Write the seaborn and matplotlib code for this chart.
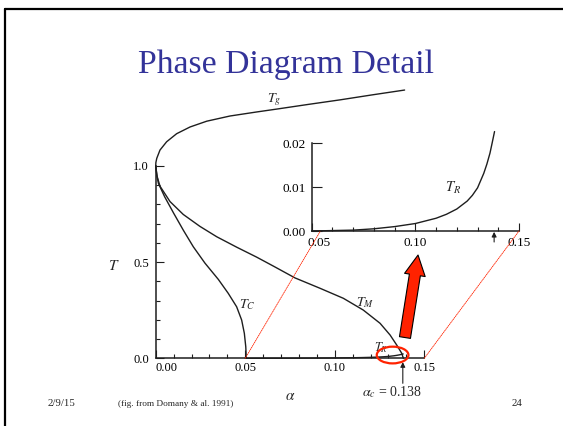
import matplotlib
matplotlib.use("Agg")
import matplotlib.pyplot as plt
import matplotlib.transforms as mtransforms
from matplotlib.patches import Ellipse, FancyArrowPatch, ConnectionPatch
from matplotlib.lines import Line2D
from matplotlib.ticker import MultipleLocator, FixedLocator, NullLocator
import pandas as pd
import seaborn as sns

# ---------------- data ----------------
tg_alpha = [0.0, 0.0001, 0.0006, 0.0024, 0.0061, 0.0117, 0.0192, 0.0285, 0.0415, 0.0564, 0.0676, 0.085, 0.103, 0.121, 0.139]
tg_T = [1.0, 1.018, 1.04, 1.083, 1.126, 1.168, 1.203, 1.233, 1.260, 1.281, 1.296, 1.320, 1.344, 1.370, 1.395]

tc_alpha = [0.0, 0.0006, 0.0015, 0.005, 0.010, 0.0155, 0.021, 0.0275, 0.035, 0.0405, 0.0452, 0.048, 0.0495, 0.0503, 0.0506]
tc_T = [1.0, 0.955, 0.91, 0.84, 0.755, 0.665, 0.58, 0.495, 0.41, 0.338, 0.268, 0.199, 0.13, 0.06, 0.0]

tm_alpha = [0.0, 0.0008, 0.0024, 0.008, 0.0154, 0.0247, 0.0341, 0.0452, 0.0564, 0.066, 0.0778, 0.0918, 0.1048, 0.1159, 0.1253, 0.1309, 0.1346, 0.1374, 0.1383]
tm_T = [1.0, 0.945, 0.895, 0.815, 0.748, 0.686, 0.632, 0.578, 0.526, 0.478, 0.418, 0.364, 0.312, 0.251, 0.182, 0.121, 0.069, 0.026, 0.0]

tr_alpha = [0.05, 0.06, 0.07, 0.08, 0.09, 0.10, 0.11, 0.115, 0.12, 0.125, 0.1275, 0.13, 0.133, 0.1345, 0.136, 0.137, 0.1382]
tr_T = [0.0, 0.0001, 0.0002, 0.0005, 0.0010, 0.0017, 0.0029, 0.0038, 0.0050, 0.0068, 0.0081, 0.0098, 0.0131, 0.0152, 0.0177, 0.0199, 0.0226]

alpha_c = 0.138

main_xticks = [0.00, 0.05, 0.10, 0.15]
main_xticklabels = ["0.00", "0.05", "0.10", "0.15"]
main_yticks = [0.0, 0.5, 1.0]
main_yticklabels = ["0.0", "0.5", "1.0"]
inset_xticks = [0.05, 0.10, 0.15]
inset_xticklabels = ["0.05", "0.10", "0.15"]
inset_yticks = [0.00, 0.01, 0.02]
inset_yticklabels = ["0.00", "0.01", "0.02"]

title = "Phase Diagram Detail"
footer_date = "2/9/15"
footer_cite = "(fig. from Domany & al. 1991)"
footer_page = "24"

# ---------------- style ----------------
sns.set_style("ticks")
plt.rcParams["font.family"] = ["Liberation Serif", "DejaVu Serif"]
plt.rcParams["mathtext.fontset"] = "stix"
plt.rcParams["lines.solid_joinstyle"] = "round"

W, H = 563.0, 426.0
LINE = "#1e1e1e"
RED = "#ff2200"


def fx(px):
    return px / W


def fy(py):
    return 1.0 - py / H


fig = plt.figure(figsize=(5.63, 4.26), dpi=100, facecolor="white")

# slide border (left and top)
fig.add_artist(Line2D([fx(5.4), fx(5.4)], [0, fy(9)], color="black", lw=1.6))
fig.add_artist(Line2D([fx(5.4), 1.0], [fy(9), fy(9)], color="black", lw=1.6))

# title
fig.text(fx(286), fy(73.5), title, ha="center", va="baseline",
         fontsize=24.3, color="#333399")

# ---------------- main axes ----------------
ax = fig.add_axes([fx(155.7), fy(358.3), (424.3 - 155.7) / W, 1.45 * 192.3 / H])
ax.set_facecolor("none")
curves = [(tg_alpha, tg_T), (tc_alpha, tc_T), (tm_alpha, tm_T), (tr_alpha, tr_T)]
for xa, ya in curves:
    df = pd.DataFrame({"alpha": xa, "T": ya})
    sns.lineplot(data=df, x="alpha", y="T", ax=ax, color=LINE, lw=1.0,
                 sort=False, estimator=None, clip_on=False)
ax.set_xlim(0, 0.15)
ax.set_ylim(0, 1.45)
ax.set_xlabel("")
ax.set_ylabel("")
for s in ["top", "right"]:
    ax.spines[s].set_visible(False)
ax.spines["left"].set_bounds(0, 1.0)
for s in ["left", "bottom"]:
    ax.spines[s].set_linewidth(1.1)
    ax.spines[s].set_color(LINE)
ax.xaxis.set_major_locator(FixedLocator(main_xticks))
ax.set_xticklabels(main_xticklabels)
ax.xaxis.set_minor_locator(MultipleLocator(0.01))
ax.yaxis.set_major_locator(FixedLocator(main_yticks))
ax.set_yticklabels(main_yticklabels)
ax.yaxis.set_minor_locator(FixedLocator([0.1, 0.2, 0.3, 0.4, 0.6, 0.7, 0.8, 0.9]))
ax.tick_params(which="major", direction="in", length=6, width=0.8, color=LINE,
               labelsize=9, labelcolor="black")
ax.tick_params(axis="x", which="major", pad=3)
ax.tick_params(axis="y", which="major", pad=5)
ax.tick_params(which="minor", direction="in", length=3, width=0.8, color=LINE)
ax.get_xticklabels()[0].set_horizontalalignment("left")

# curve labels
ax.text(0.0661, 1.345, r"$T_g$", ha="center", va="center", fontsize=10)
ax.text(0.0513, 0.277, r"$T_C$", ha="center", va="center", fontsize=10)
ax.text(0.1172, 0.288, r"$T_M$", ha="center", va="center", fontsize=10)
ax.text(0.1259, 0.054, r"$T_R$", ha="center", va="center", fontsize=9)

# red ellipse around the small T_R region
ax.add_patch(Ellipse((0.1323, 0.017), 0.0177, 0.087, fill=False, ec=RED,
                     lw=1.6, clip_on=False, zorder=5))

# alpha_c arrow
ax.annotate("", xy=(alpha_c, -0.02), xytext=(alpha_c, -0.13),
            arrowprops=dict(arrowstyle="-|>", color=LINE, lw=0.8,
                            mutation_scale=7, shrinkA=0, shrinkB=0),
            annotation_clip=False)

# big red arrow
ax.add_patch(FancyArrowPatch(posA=(0.1392, 0.108), posB=(0.1465, 0.537),
                             arrowstyle="simple,head_length=1.45,head_width=1.5,tail_width=0.8",
                             mutation_scale=10, fc=RED, ec="black", lw=0.8,
                             shrinkA=0, shrinkB=0, clip_on=False, zorder=6))

# axis labels
fig.text(fx(114), fy(266), r"$T$", ha="center", va="center", fontsize=11)
fig.text(fx(290), fy(396), r"$\alpha$", ha="center", va="center", fontsize=11)
fig.text(fx(392), fy(392), r"$\alpha_c$ = 0.138", ha="center", va="center", fontsize=10)

# ---------------- inset axes ----------------
ax2 = fig.add_axes([fx(311.7), fy(231), (519 - 311.7) / W, 0.0235 * 4400 / H])
ax2.set_facecolor("none")
df_r = pd.DataFrame({"alpha": tr_alpha, "T": tr_T})
sns.lineplot(data=df_r, x="alpha", y="T", ax=ax2, color=LINE, lw=1.0,
             sort=False, estimator=None, clip_on=False)
ax2.set_xlim(0.05, 0.15)
ax2.set_ylim(0, 0.0235)
ax2.set_xlabel("")
ax2.set_ylabel("")
for s in ["top", "right"]:
    ax2.spines[s].set_visible(False)
ax2.spines["left"].set_bounds(0, 0.02)
for s in ["left", "bottom"]:
    ax2.spines[s].set_linewidth(1.1)
    ax2.spines[s].set_color(LINE)
ax2.xaxis.set_major_locator(FixedLocator(inset_xticks))
ax2.set_xticklabels(inset_xticklabels)
ax2.xaxis.set_minor_locator(MultipleLocator(0.01))
ax2.yaxis.set_major_locator(FixedLocator(inset_yticks))
ax2.set_yticklabels(inset_yticklabels)
ax2.yaxis.set_minor_locator(NullLocator())
ax2.tick_params(which="major", direction="in", length=6, width=0.8, color=LINE,
                labelsize=9.5, labelcolor="black", pad=4)
ax2.tick_params(axis="y", which="major", length=7)
ax2.tick_params(which="minor", direction="in", length=2.6, width=0.8, color=LINE)
lab0 = ax2.get_xticklabels()[0]
lab0.set_transform(lab0.get_transform() +
                   mtransforms.ScaledTranslation(7 / 100, 0, fig.dpi_scale_trans))
ax2.text(0.1184, 0.0097, r"$T_R$", ha="center", va="center", fontsize=10.5)
ax2.annotate("", xy=(alpha_c, -0.0002), xytext=(alpha_c, -0.0025),
             arrowprops=dict(arrowstyle="-|>", color=LINE, lw=0.8,
                             mutation_scale=7, shrinkA=0, shrinkB=0),
             annotation_clip=False)

# red dotted connector lines
for a_main, a_in in [(0.05, 0.0542), (0.15, 0.15)]:
    con = ConnectionPatch(xyA=(a_main, 0), coordsA=ax.transData,
                          xyB=(a_in, 0), coordsB=ax2.transData,
                          color=RED, lw=0.6, linestyle=(0, (1.2, 1.2)))
    fig.add_artist(con)

# footer
fig.text(fx(48), fy(404), footer_date, ha="left", va="center", fontsize=7.8)
fig.text(fx(176), fy(404), footer_cite, ha="center", va="center", fontsize=6.7)
fig.text(fx(517), fy(404), footer_page, ha="center", va="center", fontsize=7.8)

fig.savefig("out.png", dpi=100, facecolor="white")
